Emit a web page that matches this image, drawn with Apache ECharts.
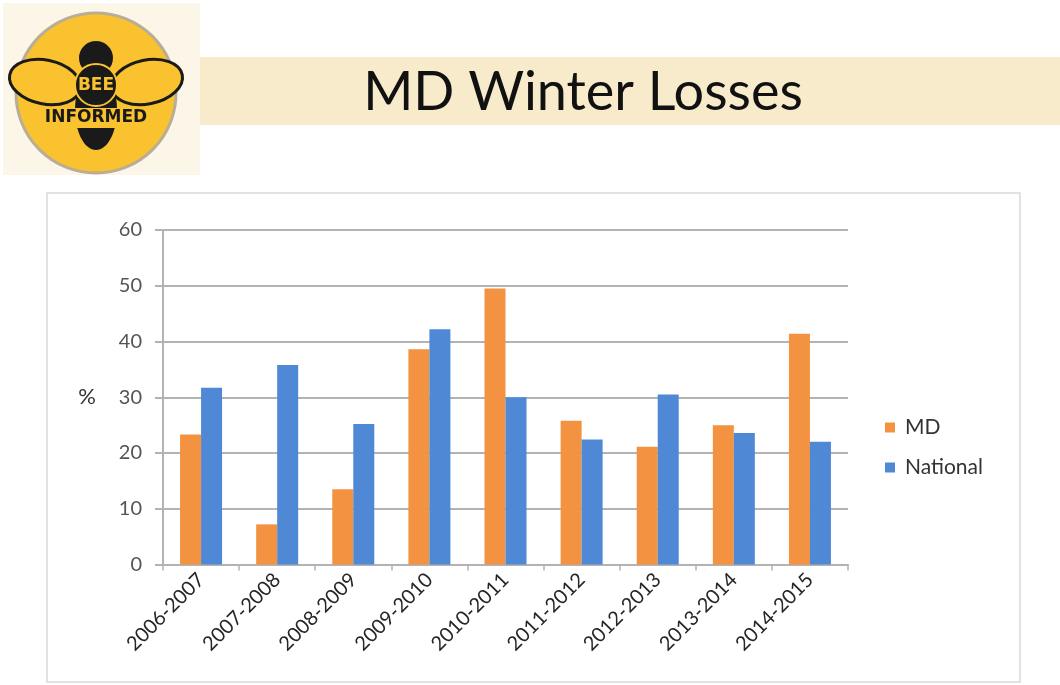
<!DOCTYPE html>
<html>
<head>
<meta charset="utf-8">
<script src="https://cdn.jsdelivr.net/npm/echarts@6/dist/echarts.min.js"></script>
<style>
  html, body { margin: 0; padding: 0; background: #fff; }
  #chart { width: 1060px; height: 685px; }
</style>
</head>
<body>
<div id="chart"></div>
<script>
// winter seasons
const seasons = ['2006-2007', '2007-2008', '2008-2009', '2009-2010', '2010-2011',
  '2011-2012', '2012-2013', '2013-2014', '2014-2015'];
// loss percentages
const mdLoss = [23.3, 7.2, 13.5, 38.6, 49.5, 25.8, 21.1, 25.0, 41.4];
const nationalLoss = [31.7, 35.8, 25.2, 42.2, 30.0, 22.4, 30.5, 23.6, 22.0];
const yTicks = [0, 10, 20, 30, 40, 50, 60];

const orange = '#f39240';
const blue = '#4f89d5';
const gridGray = '#b3b3b3';
const font = 'Lato, "Open Sans", sans-serif';

const chart = echarts.init(document.getElementById('chart'));

// logo: bee on a yellow disc
const logo = {
  type: 'group',
  children: [
    { type: 'rect', shape: { x: 3, y: 3, width: 197, height: 172 }, style: { fill: '#fcf6e8' } },
    { type: 'circle', shape: { cx: 96, cy: 93, r: 80 }, style: { fill: '#f9c22e', stroke: '#b9ae95', lineWidth: 3 } },
    // wings
    { type: 'ellipse', shape: { cx: 45, cy: 82, rx: 36, ry: 22 }, rotation: -0.2, originX: 45, originY: 82,
      style: { fill: '#f9c22e', stroke: '#1a1a1a', lineWidth: 3 } },
    { type: 'ellipse', shape: { cx: 147, cy: 82, rx: 36, ry: 22 }, rotation: 0.2, originX: 147, originY: 82,
      style: { fill: '#f9c22e', stroke: '#1a1a1a', lineWidth: 3 } },
    // body
    { type: 'circle', shape: { cx: 96, cy: 58, r: 17 }, style: { fill: '#1a1a1a' } },
    { type: 'ellipse', shape: { cx: 96, cy: 110, rx: 21, ry: 40 }, style: { fill: '#1a1a1a' } },
    { type: 'circle', shape: { cx: 96, cy: 85, r: 21 }, style: { fill: '#1a1a1a', stroke: '#f9c22e', lineWidth: 2 } },
    { type: 'text', x: 96, y: 86, style: { text: 'BEE', fill: '#f9c22e', font: 'bold 17px "DejaVu Sans", sans-serif',
      align: 'center', verticalAlign: 'middle', stroke: '#1a1a1a', lineWidth: 1 } },
    { type: 'rect', shape: { x: 30, y: 108, width: 132, height: 20 }, style: { fill: '#f9c22e' } },
    { type: 'text', x: 96, y: 118, style: { text: 'INFORMED', fill: '#1a1a1a', font: 'bold 17px "DejaVu Sans", sans-serif',
      align: 'center', verticalAlign: 'middle' } }
  ]
};

const option = {
  backgroundColor: '#fff',
  animation: false,
  textStyle: { fontFamily: font },
  graphic: [
    // title band
    { type: 'rect', shape: { x: 200, y: 57, width: 860, height: 68 }, style: { fill: '#f7ebcb' } },
    { type: 'text', x: 583, y: 93, style: { text: 'MD Winter Losses', fill: '#111', font: '54px ' + font,
      align: 'center', verticalAlign: 'middle' } },
    logo,
    // chart frame
    { type: 'rect', shape: { x: 47, y: 193, width: 973, height: 489 }, style: { fill: 'none', stroke: '#d9d9d9', lineWidth: 1.5 } },
    { type: 'text', x: 87, y: 397, style: { text: '%', fill: '#333', font: '22px ' + font, align: 'center', verticalAlign: 'middle' } }
  ],
  grid: { left: 163, right: 212, top: 230, bottom: 120.5, containLabel: false },
  legend: {
    orient: 'vertical',
    left: 880,
    top: 412,
    itemWidth: 10,
    itemHeight: 10,
    itemGap: 19,
    icon: 'rect',
    textStyle: { fontSize: 21, color: '#333', fontFamily: font, padding: [0, 0, 0, 5] },
    data: ['MD', 'National']
  },
  xAxis: {
    type: 'category',
    data: seasons,
    axisLine: { lineStyle: { color: gridGray, width: 2 } },
    axisTick: { show: true, length: 6, lineStyle: { color: gridGray, width: 1.5 } },
    axisLabel: { rotate: 45, fontSize: 20, color: '#262626', margin: 12, fontFamily: font }
  },
  yAxis: {
    type: 'value',
    min: yTicks[0],
    max: yTicks[yTicks.length - 1],
    interval: 10,
    axisLine: { show: true, lineStyle: { color: gridGray, width: 2 } },
    axisTick: { show: true, length: 8, lineStyle: { color: gridGray, width: 2 } },
    axisLabel: { fontSize: 20, color: '#555', margin: 21, fontFamily: font },
    splitLine: { lineStyle: { color: gridGray, width: 2 } }
  },
  series: [
    { name: 'MD', type: 'bar', data: mdLoss, barWidth: 21, barGap: '0%', itemStyle: { color: orange } },
    { name: 'National', type: 'bar', data: nationalLoss, barWidth: 21, barGap: '0%', itemStyle: { color: blue } }
  ]
};

chart.setOption(option);
</script>
</body>
</html>
